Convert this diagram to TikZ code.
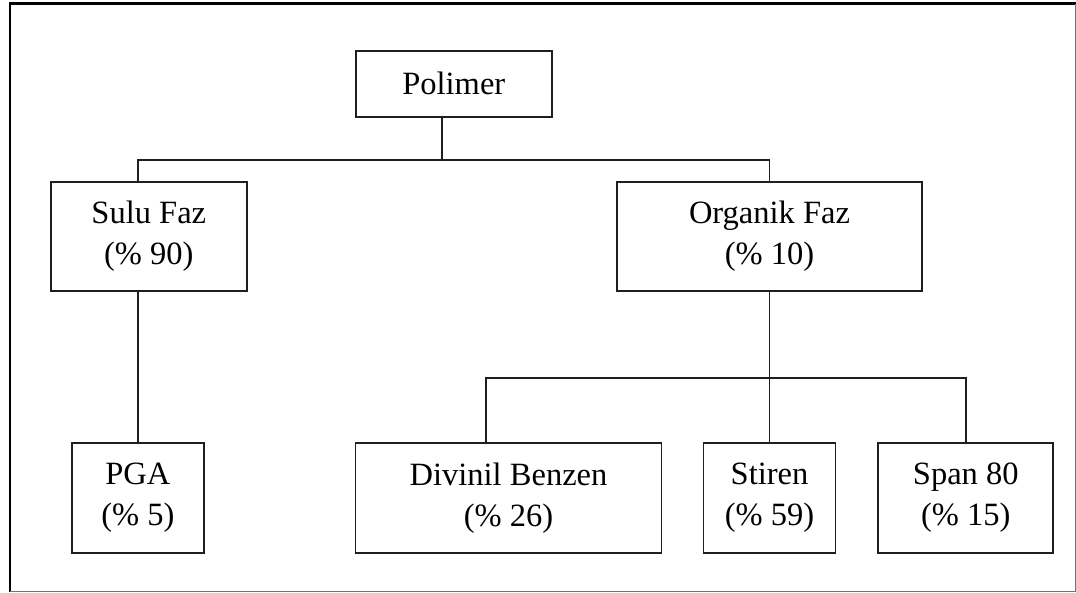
\documentclass[tikz,border=0pt]{standalone}
\usepackage{fontspec}
\setmainfont{Liberation Serif}
\begin{document}
\begin{tikzpicture}[x=1pt,y=-1pt,
  box/.style={draw=black!88,line width=1.7pt,inner sep=0pt,align=center,
    font=\fontsize{32.5}{41}\selectfont},
  link/.style={draw=black!88,line width=1.7pt}]
\useasboundingbox (0,0) rectangle (1076,592);
% outer frame
\draw[line width=2.6pt] (10,592) -- (10,3.7) -- (1076,3.7);
\draw[black!55,line width=1pt] (10,591.3) -- (1075.6,591.3) -- (1075.6,3.7);

% boxes
\node[box,minimum width=196pt,minimum height=66pt] (pol) at (453.8,83.8) {Polimer};
\node[box,minimum width=196pt,minimum height=109pt] (sulu) at (148.8,236.2) {Sulu Faz\\(\% 90)};
\node[box,minimum width=305pt,minimum height=109pt] (org) at (769.5,236.5) {Organik Faz\\(\% 10)};
\node[box,minimum width=132pt,minimum height=110.6pt] (pga) at (137.8,498) {PGA\\(\% 5)};
\node[box,minimum width=306pt,minimum height=109.4pt] (div) at (508.5,498) {Divinil Benzen\\(\% 26)};
\node[box,minimum width=132pt,minimum height=109.4pt] (stir) at (769.5,498) {Stiren\\(\% 59)};
\node[box,minimum width=175pt,minimum height=109.4pt] (span) at (965.8,498) {Span 80\\(\% 15)};

% junctions of the buses
\coordinate (j1) at (442,160);
\coordinate (j2) at (769.5,377.7);
\coordinate (dv) at (486,443.3);

% connectors
\draw[link] (pol.south -| j1) -- (j1);
\draw[link] (pga.north |- sulu.north) -- (pga.north |- j1) -- (org.north |- j1) -- (org.north);
\draw[link] (pga.north |- sulu.south) -- (pga.north);
\draw[link] (org.south) -- (j2);
\draw[link] (dv) -- (dv |- j2) -- (span.north |- j2) -- (span.north);
\draw[link] (stir.north) -- (stir.north |- j2);
\end{tikzpicture}
\end{document}
